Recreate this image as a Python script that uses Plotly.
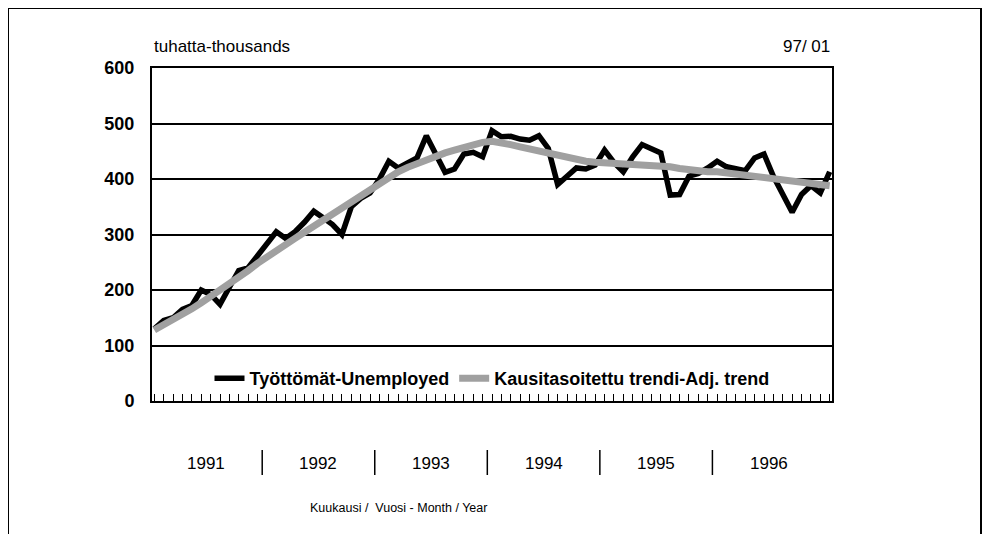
import plotly.graph_objects as go

# Monthly data, Jan 1991 .. Jan 1997 (73 months), thousands of persons
unemployed = [
    130, 145, 150, 165, 172, 200, 192, 174, 205, 235, 240, 262,
    285, 305, 293, 305, 322, 342, 330, 318, 300, 350, 365, 375,
    400, 432, 420, 428, 438, 478, 445, 412, 418, 445, 448, 440,
    487, 476, 477, 472, 470, 478, 455, 390, 405, 420, 418, 425,
    452, 430, 413, 440, 462, 455, 447, 371, 372, 405, 410, 420,
    432, 422, 418, 415, 438, 445, 405, 370, 340, 372, 388, 375,
    413,
]
trend = [
    128, 137, 146, 156, 166, 177, 188, 199, 210, 222, 235, 248,
    260, 271, 282, 293, 304, 315, 325, 335, 345, 357, 369, 380,
    392, 403, 413, 421, 428, 435, 441, 447, 452, 457, 462, 466,
    468, 466, 462, 458, 454, 450, 447, 443, 439, 435, 432, 430,
    429, 429, 429, 429, 428, 427, 425, 422, 419, 416, 414, 413,
    413, 411, 409, 407, 405, 404, 403, 401, 399, 397, 395, 392,
    388,
]
years = ["1991", "1992", "1993", "1994", "1995", "1996"]
series_names = ["Työttömät-Unemployed", "Kausitasoitettu trendi-Adj. trend"]
y_ticks = [0, 100, 200, 300, 400, 500, 600]

months = list(range(len(unemployed)))
FONT = "Liberation Sans, Arial, sans-serif"

# plot area in figure pixels (page body adds 8px offset)
L, R, T, B = 144, 824, 60, 393
W, H = R - L, B - T

fig = go.Figure()
fig.add_trace(go.Scatter(x=months, y=unemployed, mode="lines", name=series_names[0],
                         line=dict(color="black", width=5.5)))
fig.add_trace(go.Scatter(x=months, y=trend, mode="lines", name=series_names[1],
                         line=dict(color="#a0a0a0", width=7)))

shapes = []
annotations = []
for k, yr in enumerate(years):
    annotations.append(dict(x=12 * k + 5.5, y=-62 / H, xref="x", yref="paper", text=yr,
                            yanchor="middle", showarrow=False,
                            font=dict(family=FONT, size=17, color="black")))
    if k > 0:
        shapes.append(dict(type="line", xref="x", yref="paper", x0=12 * k - 0.5, x1=12 * k - 0.5,
                           y0=-49 / H, y1=-74 / H, line=dict(color="black", width=1.5)))

annotations += [
    dict(x=0, y=1 + 21 / H, xref="paper", yref="paper", xanchor="left", yanchor="middle",
         text="tuhatta-thousands", showarrow=False, font=dict(family=FONT, size=17, color="black")),
    dict(x=1, y=1 + 21 / H, xref="paper", yref="paper", xanchor="right", yanchor="middle",
         text="97/ 01", showarrow=False, font=dict(family=FONT, size=17, color="black")),
    dict(x=26, y=-107 / H, xref="x", yref="paper", yanchor="middle",
         text="Kuukausi /  Vuosi - Month / Year", showarrow=False,
         font=dict(family=FONT, size=12.5, color="black")),
]

# outer frame (top, left, right)
fl, fr, ft, fb = (0 - L) / W, (973 - L) / W, (B - 0) / H, (B - 560) / H
for x0, y0, x1, y1 in [(fl, ft, fr, ft), (fl, ft, fl, fb), (fr, ft, fr, fb)]:
    shapes.append(dict(type="line", xref="paper", yref="paper", x0=x0, y0=y0, x1=x1, y1=y1,
                       line=dict(color="black", width=2)))

fig.update_layout(
    width=990, height=534,
    margin=dict(l=L, r=990 - R, t=T, b=534 - B),
    paper_bgcolor="white", plot_bgcolor="white",
    showlegend=True,
    legend=dict(orientation="h", x=0.5, xanchor="center", y=0.012, yanchor="bottom",
                font=dict(family=FONT, size=18, color="black", weight="bold"), itemwidth=30,
                bgcolor="rgba(0,0,0,0)"),
    shapes=shapes, annotations=annotations,
    font=dict(family=FONT, color="black"),
)
fig.update_xaxes(range=[-0.25, 72.25], showgrid=False, zeroline=False,
                 showline=True, linecolor="black", linewidth=2, mirror=True,
                 ticks="inside", tickvals=months, ticklen=7, tickwidth=1, tickcolor="black",
                 showticklabels=False)
fig.update_yaxes(range=[0, 600], tickvals=y_ticks, showgrid=True, gridcolor="black", gridwidth=1.5,
                 zeroline=False, showline=True, linecolor="black", linewidth=2, mirror=True,
                 ticks="", ticklabelstandoff=12,
                 tickfont=dict(family=FONT, size=18, color="black", weight="bold"))

fig.write_html("out.html")
